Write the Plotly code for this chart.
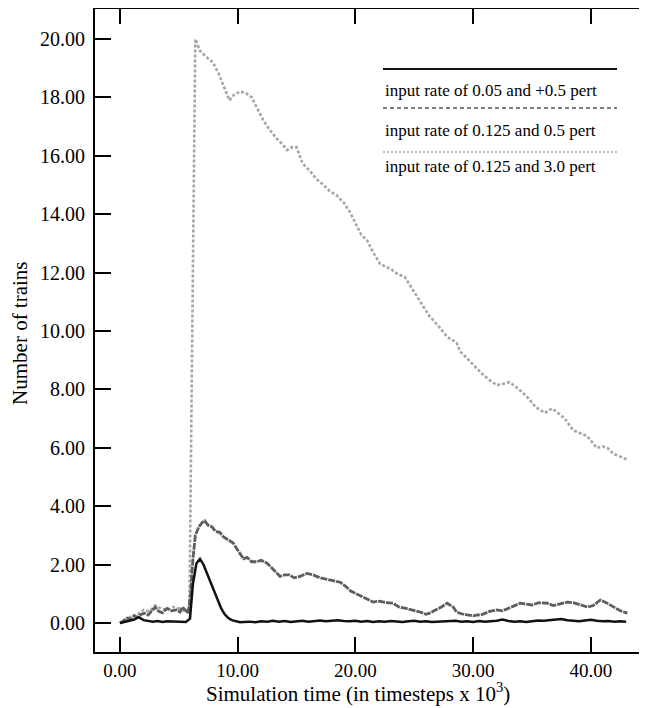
import plotly.graph_objects as go

# series: input rate 0.05, +0.5 pert (black)
x_low = [0.0, 0.4, 0.8, 1.2, 1.6, 2.0, 2.4, 2.8, 3.2, 3.6, 4.0, 4.4, 4.8, 5.2, 5.6,
         5.95, 6.2, 6.5, 6.8, 7.1, 7.4, 7.7, 8.0, 8.3, 8.6, 8.9, 9.2, 9.5, 9.8, 10.2,
         10.5, 11.0, 11.5, 12.0, 12.5, 13.0, 13.5, 14.0, 14.5, 15.0, 15.5, 16.0, 16.5,
         17.0, 17.5, 18.0, 18.5, 19.0, 19.5, 20.0, 20.5, 21.0, 21.5, 22.0, 22.5, 23.0,
         23.5, 24.0, 24.5, 25.0, 25.5, 26.0, 26.5, 27.0, 27.5, 28.0, 28.5, 29.0, 29.5,
         30.0, 30.5, 31.0, 31.5, 32.0, 32.5, 33.0, 33.5, 34.0, 34.5, 35.0, 35.5, 36.0,
         36.5, 37.0, 37.5, 38.0, 38.5, 39.0, 39.5, 40.0, 40.5, 41.0, 41.5, 42.0, 42.5, 43.0]
y_low = [0.0, 0.05, 0.08, 0.12, 0.2, 0.1, 0.08, 0.05, 0.07, 0.04, 0.06, 0.05, 0.04, 0.05, 0.04,
         0.15, 1.35, 2.05, 2.2, 2.0, 1.7, 1.35, 1.05, 0.75, 0.5, 0.3, 0.17, 0.1, 0.06, 0.03,
         0.04, 0.05, 0.03, 0.06, 0.05, 0.08, 0.05, 0.07, 0.04, 0.06, 0.08, 0.05, 0.07,
         0.09, 0.06, 0.08, 0.1, 0.07, 0.06, 0.08, 0.05, 0.07, 0.04, 0.06, 0.05, 0.07,
         0.05, 0.04, 0.06, 0.08, 0.05, 0.06, 0.04, 0.05, 0.07, 0.06, 0.08, 0.05, 0.06,
         0.04, 0.07, 0.05, 0.06, 0.08, 0.12, 0.07, 0.05, 0.06, 0.04, 0.07, 0.09, 0.08,
         0.1, 0.12, 0.14, 0.1, 0.08, 0.06, 0.09, 0.11, 0.08, 0.06, 0.07, 0.05, 0.06, 0.05]

# series: input rate 0.125, 0.5 pert (dark grey, dashed)
x_mid = [0.0, 0.3, 0.6, 0.9, 1.2, 1.5, 1.8, 2.1, 2.4, 2.7, 3.0, 3.3, 3.6, 4.0, 4.4, 4.8,
         5.1, 5.3, 5.6, 5.8, 6.0, 6.2, 6.4, 6.7, 7.0, 7.2, 7.5, 7.8, 8.1, 8.5, 8.8, 9.2,
         9.6, 10.0, 10.5, 10.8, 11.2, 11.6, 12.0, 12.5, 13.0, 13.3, 13.6, 14.0, 14.4, 14.8,
         15.3, 15.9, 16.4, 17.0, 17.5, 18.1, 18.7, 19.2, 19.6, 20.1, 20.6, 21.0, 21.5, 22.0,
         22.6, 23.2, 23.7, 24.3, 24.9, 25.5, 26.0, 26.3, 26.8, 27.3, 27.8, 28.3, 28.6, 29.0,
         29.5, 30.0, 30.3, 30.8, 31.4, 32.0, 32.5, 33.0, 33.5, 34.0, 34.5, 35.0, 35.6, 36.3,
         36.8, 37.4, 38.0, 38.5, 39.1, 39.7, 40.2, 40.8, 41.3, 41.9, 42.5, 43.1]
y_mid = [0.0, 0.08, 0.17, 0.12, 0.25, 0.2, 0.3, 0.34, 0.28, 0.42, 0.55, 0.4, 0.35, 0.5, 0.42, 0.45,
         0.38, 0.55, 0.4, 0.34, 1.0, 2.2, 3.0, 3.3, 3.45, 3.5, 3.35, 3.3, 3.15, 3.1, 2.95, 2.85,
         2.75, 2.5, 2.2, 2.25, 2.1, 2.1, 2.15, 2.05, 1.85, 1.7, 1.6, 1.65, 1.65, 1.55,
         1.6, 1.7, 1.65, 1.55, 1.5, 1.45, 1.4, 1.25, 1.1, 1.0, 0.9, 0.8, 0.72, 0.75,
         0.7, 0.68, 0.55, 0.5, 0.45, 0.38, 0.3, 0.34, 0.45, 0.55, 0.68, 0.55, 0.38, 0.32,
         0.28, 0.25, 0.27, 0.3, 0.4, 0.45, 0.42, 0.5, 0.6, 0.68, 0.65, 0.62, 0.7, 0.68,
         0.6, 0.65, 0.72, 0.7, 0.62, 0.55, 0.6, 0.79, 0.7, 0.55, 0.42, 0.34]

# series: input rate 0.125, 3.0 pert (light grey, dotted)
x_high = [0.0, 0.5, 1.0, 1.5, 2.0, 2.5, 3.0, 3.5, 4.0, 4.5, 5.0, 5.5, 5.9, 6.4, 6.8, 7.3,
          7.9, 8.4, 8.9, 9.3, 9.7, 10.2, 10.7, 11.2, 11.7, 12.2, 12.7, 13.3, 13.8, 14.2,
          14.6, 15.0, 15.5, 16.1, 16.7, 17.3, 17.8, 18.4, 19.0, 19.5, 20.0, 20.5, 21.0,
          21.5, 22.1, 22.6, 23.1, 23.6, 24.2, 24.9, 25.5, 26.3, 27.0, 27.8, 28.6, 28.9,
          29.4, 30.0, 30.6, 31.3, 32.0, 32.6, 33.1, 33.6, 34.2, 34.8, 35.3, 36.1, 36.7,
          37.2, 37.8, 38.5, 39.1, 39.7, 40.5, 41.0, 41.4, 41.9, 42.5, 43.1]
y_high = [0.0, 0.1, 0.25, 0.3, 0.45, 0.4, 0.6, 0.5, 0.45, 0.55, 0.5, 0.4, 0.5, 20.0, 19.6, 19.4,
          19.2, 18.8, 18.3, 17.9, 18.1, 18.2, 18.15, 18.0, 17.6, 17.2, 16.9, 16.6, 16.4, 16.2,
          16.3, 16.3, 15.75, 15.5, 15.2, 15.0, 14.8, 14.65, 14.4, 14.1, 13.7, 13.3, 13.1,
          12.7, 12.3, 12.2, 12.1, 11.95, 11.85, 11.4, 11.0, 10.5, 10.2, 9.8, 9.6, 9.3,
          9.1, 8.85, 8.6, 8.35, 8.15, 8.2, 8.25, 8.1, 7.9, 7.65, 7.4, 7.2, 7.35,
          7.2, 7.0, 6.6, 6.5, 6.4, 6.0, 6.05, 6.0, 5.8, 5.7, 5.6]

legend_labels = ["input rate of 0.05 and +0.5 pert",
                 "input rate of 0.125 and 0.5 pert",
                 "input rate of 0.125 and 3.0 pert"]

x_ticks = [0, 10, 20, 30, 40]
y_ticks = [0, 2, 4, 6, 8, 10, 12, 14, 16, 18, 20]

SERIF = "Liberation Serif, Times New Roman, serif"

fig = go.Figure()
fig.add_trace(go.Scatter(x=x_high, y=y_high, mode="lines", showlegend=False,
                         line=dict(color="#a6a6a6", width=2.6, dash="3px,2px")))
fig.add_trace(go.Scatter(x=x_mid, y=y_mid, mode="lines", showlegend=False,
                         line=dict(color="#5e5e5e", width=2.8, dash="7px,1px")))
fig.add_trace(go.Scatter(x=x_low, y=y_low, mode="lines", showlegend=False,
                         line=dict(color="#111111", width=2.5)))

# hand-drawn legend: line above each label
legend_styles = [("#111111", "solid", 2), ("#555555", "4px,3px", 1.5), ("#aaaaaa", "2px,2px", 1.5)]
line_y = [0.9067, 0.8460, 0.7776]
text_y = [0.8740, 0.8118, 0.7543]
for lab, (col, dsh, w), ly, ty in zip(legend_labels, legend_styles, line_y, text_y):
    fig.add_shape(type="line", xref="paper", yref="paper", x0=0.5217, x1=0.9457, y0=ly, y1=ly,
                  line=dict(color=col, width=w, dash=dsh))
    fig.add_annotation(text=lab, xref="paper", yref="paper", x=0.5217, y=ty,
                       xanchor="left", yanchor="middle", showarrow=False,
                       font=dict(family=SERIF, size=17, color="black"))

fig.add_annotation(text="Simulation time (in timesteps x 10<sup>3</sup>)", xref="paper", yref="paper",
                   x=0.4764, y=-0.0855, xanchor="center", yanchor="bottom", showarrow=False,
                   borderpad=0, font=dict(family=SERIF, size=21, color="black"))
fig.add_annotation(text="Number of trains", xref="paper", yref="paper", textangle=-90,
                   x=-0.136, y=0.4961, xanchor="center", yanchor="middle", showarrow=False,
                   borderpad=0, font=dict(family=SERIF, size=21, color="black"))

fig.update_layout(
    width=639, height=700,
    margin=dict(l=87, r=0, t=1, b=56),
    paper_bgcolor="white", plot_bgcolor="white",
    font=dict(family=SERIF, size=20, color="black"),
    xaxis=dict(range=[-2.12, 44.77], tickvals=x_ticks, tickformat=".2f",
               showgrid=False, zeroline=False, showline=True, linecolor="black", linewidth=1.8,
               mirror="ticks", ticks="inside", ticklen=15, tickwidth=1.5, tickcolor="black",
               ticklabelstandoff=0, tickfont=dict(size=19)),
    yaxis=dict(range=[-0.99, 21.03], tickvals=y_ticks, tickformat=".2f",
               showgrid=False, zeroline=False, showline=True, linecolor="black", linewidth=1.8,
               ticks="inside", ticklen=16, tickwidth=1.5, tickcolor="black", ticklabelstandoff=4),
    yaxis2=dict(overlaying="y", side="right", range=[-0.99, 21.03], tickvals=y_ticks,
                showticklabels=False, showgrid=False, zeroline=False, showline=False,
                ticks="inside", ticklen=10, tickwidth=1.5, tickcolor="black"),
)

fig.write_html("out.html")
